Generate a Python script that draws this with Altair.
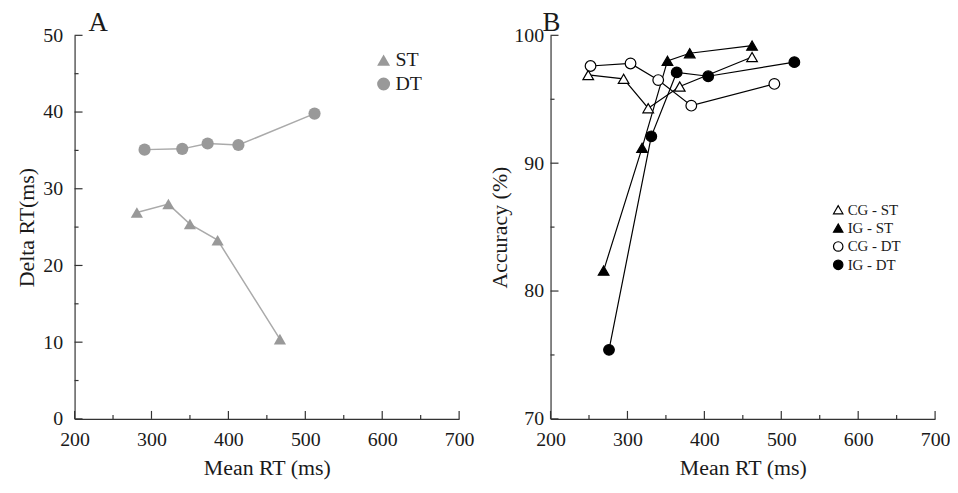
import altair as alt
import pandas as pd

FONT = "Liberation Serif"
AX = "#333333"
TXT = "#1a1a1a"

# ---------------- data: panel A (Delta RT) ----------------
a_tasks = ["ST", "DT"]
a_st_rt = [281, 322, 350, 386, 467]
a_st_delta = [26.9, 28.0, 25.4, 23.3, 10.4]
a_dt_rt = [291, 340, 373, 413, 512]
a_dt_delta = [35.1, 35.2, 35.9, 35.7, 39.8]

# ---------------- data: panel B (Accuracy) ----------------
b_series = ["CG - ST", "IG - ST", "CG - DT", "IG - DT"]
b_cg_st_rt = [249, 295, 327, 368, 462]
b_cg_st_acc = [96.9, 96.6, 94.3, 96.0, 98.3]
b_ig_st_rt = [269, 319, 352, 381, 462]
b_ig_st_acc = [81.6, 91.2, 98.0, 98.6, 99.2]
b_cg_dt_rt = [252, 304, 340, 383, 491]
b_cg_dt_acc = [97.6, 97.8, 96.5, 94.5, 96.2]
b_ig_dt_rt = [276, 331, 364, 405, 517]
b_ig_dt_acc = [75.4, 92.1, 97.1, 96.8, 97.9]

# ticks
x_major = [200, 300, 400, 500, 600, 700]
x_minor = [250, 350, 450, 550, 650]
a_y_major = [0, 10, 20, 30, 40, 50]
a_y_minor = [5, 15, 25, 35, 45]
b_y_major = [70, 80, 90, 100]
b_y_minor = [75, 85, 95]

W, H = 387, 386


def build(groups, key):
    rows = []
    for name, xs, ys in groups:
        for i, (x, y) in enumerate(zip(xs, ys)):
            rows.append({key: name, "rt": x, "val": y, "idx": i})
    return pd.DataFrame(rows)


df_a = build([("ST", a_st_rt, a_st_delta), ("DT", a_dt_rt, a_dt_delta)], "task")
df_b = build([("CG - ST", b_cg_st_rt, b_cg_st_acc), ("IG - ST", b_ig_st_rt, b_ig_st_acc),
              ("CG - DT", b_cg_dt_rt, b_cg_dt_acc), ("IG - DT", b_ig_dt_rt, b_ig_dt_acc)], "series")


def x_enc():
    return alt.X("rt:Q", scale=alt.Scale(domain=[200, 700], nice=False, zero=False),
                 title="Mean RT (ms)",
                 axis=alt.Axis(values=x_major, tickSize=0, labelFlush=False, format="d",
                               labelFont=FONT, labelFontSize=20, labelColor=TXT,
                               titleFont=FONT, titleFontSize=22, titleFontWeight="normal",
                               titleColor=TXT, domainColor=AX, domainWidth=1.2, grid=False,
                               labelPadding=11, titlePadding=8))


def y_enc(domain, values, title, lpad, tpad):
    return alt.Y("val:Q", scale=alt.Scale(domain=domain, nice=False, zero=False), title=title,
                 axis=alt.Axis(values=values, tickSize=0, labelFlush=False, format="d",
                               labelFont=FONT, labelFontSize=20, labelColor=TXT,
                               titleFont=FONT, titleFontSize=22, titleFontWeight="normal",
                               titleColor=TXT, domainColor=AX, domainWidth=1.2, grid=False,
                               labelPadding=lpad, titlePadding=tpad))


def tick_layers(ydomain, ymaj, ymin, ytitle, lpad, tpad):
    X = x_enc()
    Y = y_enc(ydomain, ymaj, ytitle, lpad, tpad)
    layers = []
    for vals, ln in [(x_major, 8), (x_minor, 4)]:
        layers.append(alt.Chart(pd.DataFrame({"rt": vals})).mark_rule(color=AX, strokeWidth=1.2)
                      .encode(x=X, y=alt.value(H), y2=alt.value(H - ln)))
    for vals, ln in [(ymaj, 8), (ymin, 4)]:
        layers.append(alt.Chart(pd.DataFrame({"val": vals})).mark_rule(color=AX, strokeWidth=1.2)
                      .encode(y=Y, x=alt.value(0), x2=alt.value(ln)))
    return layers


# ---------------- panel A ----------------
XA = x_enc()
YA = y_enc([0, 50], a_y_major, "Delta RT(ms)", 12, 4)
shapeA = alt.Shape("task:N", scale=alt.Scale(domain=a_tasks, range=["triangle-up", "circle"]),
                   legend=alt.Legend(title=None, orient="none", legendX=301, legendY=15,
                                     labelFont=FONT, labelFontSize=20, labelColor=TXT,
                                     symbolSize=170, symbolFillColor="#999999",
                                     symbolStrokeWidth=0, rowPadding=4, labelOffset=2))
lineA = alt.Chart(df_a).mark_line(color="#aaaaaa", strokeWidth=1.5).encode(
    x=XA, y=YA, detail="task:N", order="idx:Q")
ptsA = alt.Chart(df_a).mark_point(filled=True, color="#999999", size=150, opacity=1).encode(
    x=XA, y=YA, shape=shapeA)
panelA = alt.layer(*tick_layers([0, 50], a_y_major, a_y_minor, "Delta RT(ms)", 12, 4),
                   lineA, ptsA).properties(
    width=W, height=H,
    title=alt.TitleParams("A", anchor="start", frame="group", font=FONT, fontSize=27,
                          fontWeight="normal", color=TXT, dx=14, offset=-12))

# ---------------- panel B ----------------
XB = x_enc()
YB = y_enc([70, 100], b_y_major, "Accuracy (%)", 7, 2)
legB = alt.Legend(title=None, orient="none", legendX=282, legendY=168,
                  labelFont=FONT, labelFontSize=15, labelColor=TXT,
                  symbolSize=90, symbolStrokeColor="black", symbolStrokeWidth=1.2,
                  rowPadding=2.5, labelOffset=2)
shapeB = alt.Shape("series:N", scale=alt.Scale(domain=b_series,
                   range=["triangle-up", "triangle-up", "circle", "circle"]), legend=legB)
fillB = alt.Fill("series:N", scale=alt.Scale(domain=b_series,
                 range=["white", "black", "white", "black"]), legend=legB)
strokeB = alt.Stroke("series:N", scale=alt.Scale(domain=b_series,
                     range=["black", "black", "black", "black"]), legend=legB)
lineB = alt.Chart(df_b).mark_line(color="black", strokeWidth=1.2).encode(
    x=XB, y=YB, detail="series:N", order="idx:Q")
ptsB = alt.Chart(df_b).mark_point(filled=True, strokeWidth=1.2, size=115,
                                  opacity=1, fillOpacity=1, strokeOpacity=1).encode(
    x=XB, y=YB, shape=shapeB, fill=fillB, stroke=strokeB)
panelB = alt.layer(*tick_layers([70, 100], b_y_major, b_y_minor, "Accuracy (%)", 7, 2),
                   lineB, ptsB).properties(
    width=W, height=H,
    title=alt.TitleParams("B", anchor="start", frame="group", font=FONT, fontSize=27,
                          fontWeight="normal", color=TXT, dx=-8, offset=-12))

chart = alt.hconcat(panelA, panelB, spacing=15).resolve_legend(
    shape="independent", fill="independent", color="independent", stroke="independent"
).resolve_scale(shape="independent", fill="independent", stroke="independent").configure_view(
    stroke=None).properties(
    padding={"left": 8, "top": 0, "right": 0, "bottom": 0}, background="white")

chart.save("out.html", embed_options={"renderer": "svg", "actions": False})
